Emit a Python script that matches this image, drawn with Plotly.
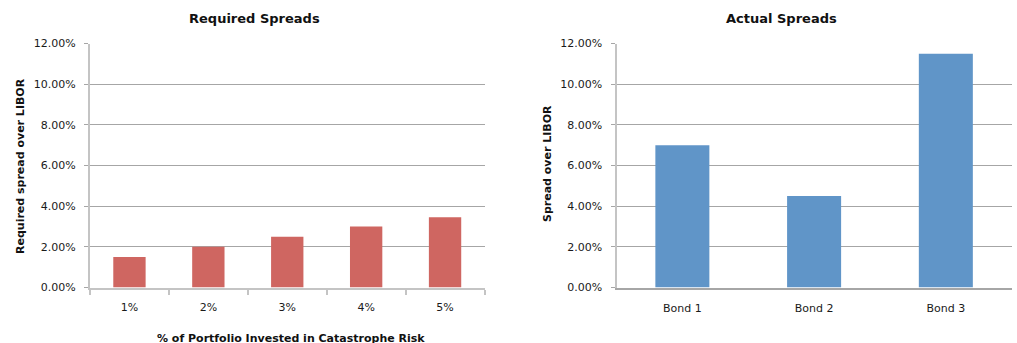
import plotly.graph_objects as go

# Required spreads by share of portfolio in catastrophe risk
portfolio_share = ["1%", "2%", "3%", "4%", "5%"]
required_spread = [0.015, 0.020, 0.025, 0.030, 0.0345]

# Actual spreads on the three bonds
bonds = ["Bond 1", "Bond 2", "Bond 3"]
actual_spread = [0.070, 0.045, 0.115]

W, H = 1017, 343
RED = "#CF6661"
BLUE = "#6095C8"
GRID = "#A6A6A6"
AXIS = "#C4C4C4"
FONT = "DejaVu Sans"


def px_x(x):
    return x / W


def px_y(y):
    return 1 - y / H


fig = go.Figure()
fig.add_trace(go.Bar(x=portfolio_share, y=required_spread, marker_color=RED,
                     marker_line_width=0, xaxis="x", yaxis="y"))
fig.add_trace(go.Bar(x=bonds, y=actual_spread, marker_color=BLUE,
                     marker_line_width=0, xaxis="x2", yaxis="y2"))

ydom = [px_y(287.5), px_y(43.5)]
yaxis_common = dict(
    range=[0, 0.12], dtick=0.02, tickformat=".2%",
    showgrid=True, gridcolor=GRID, gridwidth=1,
    ticks="outside", ticklen=4, tickcolor=GRID,
    showline=True, linecolor=AXIS, linewidth=2,
    zeroline=False, ticklabelstandoff=6, automargin=False,
    tickfont=dict(family=FONT, size=11, color="#1a1a1a"),
    domain=ydom, fixedrange=True,
)

fig.update_layout(
    width=W, height=H,
    margin=dict(l=0, r=0, t=0, b=0, pad=0, autoexpand=False),
    paper_bgcolor="white", plot_bgcolor="white",
    showlegend=False,
    bargap=0.59,
    xaxis=dict(
        domain=[px_x(90), px_x(484.5)], type="category", range=[-0.5, 4.5],
        tickson="boundaries", ticks="outside", ticklen=5, tickcolor=AXIS,
        tickwidth=2, showline=True, linecolor=AXIS, linewidth=2,
        showgrid=False, ticklabelstandoff=8, automargin=False,
        tickfont=dict(family=FONT, size=11, color="#1a1a1a"),
        anchor="y",
    ),
    yaxis=dict(**yaxis_common, anchor="x"),
    xaxis2=dict(
        domain=[px_x(616.5), px_x(1011.7)], type="category", range=[-0.5, 2.5],
        ticks="", showline=True, linecolor=GRID, linewidth=2,
        showgrid=False, ticklabelstandoff=9, automargin=False,
        tickfont=dict(family=FONT, size=11, color="#1a1a1a"),
        anchor="y2",
    ),
    yaxis2=dict(**yaxis_common, anchor="x2"),
)

title_font = dict(family=FONT, size=13, color="#111111")
label_font = dict(family=FONT, size=11, color="#111111")


def note(text, x, y, font, angle=0):
    fig.add_annotation(text=text, x=px_x(x), y=px_y(y), xref="paper", yref="paper",
                       xanchor="center", yanchor="middle", showarrow=False,
                       textangle=angle, font=font)


note("<b>Required Spreads</b>", 254, 19, title_font)
note("<b>Actual Spreads</b>", 781, 19, title_font)
note("<b>Required spread over LIBOR</b>", 20, 166, label_font, -90)
note("<b>Spread over LIBOR</b>", 548, 164, label_font, -90)
note("<b>% of Portfolio Invested in Catastrophe Risk</b>", 291, 338, label_font)

fig.write_html("out.html")
